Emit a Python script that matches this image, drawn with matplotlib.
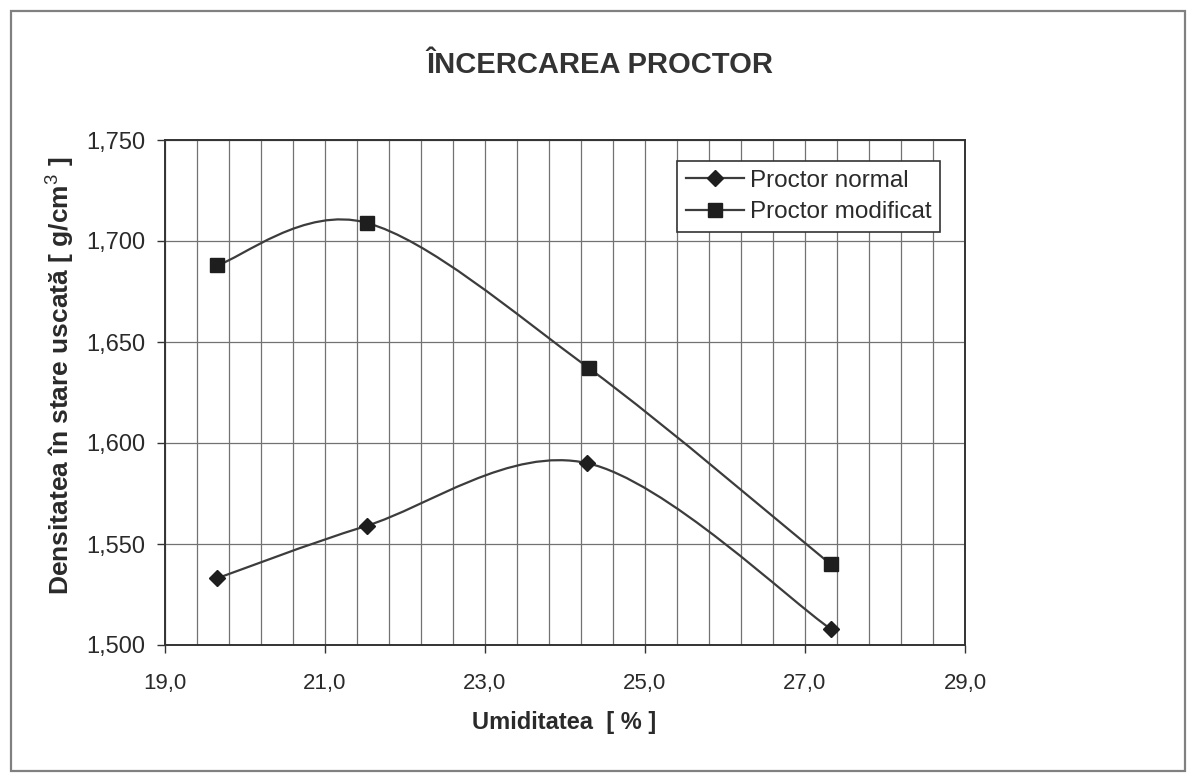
import matplotlib
matplotlib.use("Agg")
import matplotlib.pyplot as plt
from matplotlib.path import Path
from matplotlib.patches import PathPatch, Rectangle
from matplotlib.lines import Line2D
from matplotlib.ticker import MultipleLocator, FuncFormatter
from matplotlib import font_manager

# ---------------- data ----------------
umiditate_normal = [19.65, 21.52, 24.28, 27.32]
densitate_normal = [1.533, 1.559, 1.590, 1.508]
umiditate_modificat = [19.65, 21.52, 24.30, 27.32]
densitate_modificat = [1.688, 1.709, 1.637, 1.540]
series_names = ["Proctor normal", "Proctor modificat"]
title_text = "ÎNCERCAREA PROCTOR"
xlabel_text = "Umiditatea  [ % ]"
ylabel_text = "Densitatea în stare uscată [ g/cm$^3$ ]"

# ---------------- fonts ----------------
names = {f.name for f in font_manager.fontManager.ttflist}
base = "Liberation Sans" if "Liberation Sans" in names else "DejaVu Sans"
plt.rcParams['font.family'] = [base, 'DejaVu Sans']
plt.rcParams['mathtext.fontset'] = 'custom'
plt.rcParams['mathtext.rm'] = base
plt.rcParams['mathtext.bf'] = base + ':bold'

LINE_C = "#3c3c3c"
MARK_C = "#1e1e1e"
GRID_C = "#727272"
TEXT_C = "#2a2a2a"

fig = plt.figure(figsize=(11.89, 7.75), dpi=100)
fig.patch.set_facecolor("white")

# chart border
fig.add_artist(Rectangle((11/1189, 1-771/775), (1185-11)/1189, (771-11)/775,
                         transform=fig.transFigure, fill=False,
                         edgecolor="#808080", linewidth=1.6))

ax = fig.add_axes([165/1189, 1-645/775, 800/1189, 505/775])
ax.set_xlim(19.0, 29.0)
ax.set_ylim(1.500, 1.750)

ax.xaxis.set_major_locator(MultipleLocator(2.0, offset=1.0))
ax.xaxis.set_minor_locator(MultipleLocator(0.4, offset=0.2))
ax.yaxis.set_major_locator(MultipleLocator(0.05))
ax.xaxis.set_major_formatter(FuncFormatter(lambda v, p: f"{v:.1f}".replace(".", ",")))
ax.yaxis.set_major_formatter(FuncFormatter(lambda v, p: f"{v:.3f}".replace(".", ",")))

ax.grid(which="both", axis="x", color=GRID_C, linewidth=0.9)
ax.grid(which="major", axis="y", color=GRID_C, linewidth=0.9)
ax.set_axisbelow(True)
ax.tick_params(axis="x", which="minor", length=0)
ax.tick_params(axis="both", which="major", direction="out", length=6,
               width=1.0, color="#333333")
ax.tick_params(axis="y", labelsize=17, pad=8, labelcolor=TEXT_C)
ax.tick_params(axis="x", labelsize=16, pad=14, labelcolor=TEXT_C)
for s in ax.spines.values():
    s.set_color("#333333")
    s.set_linewidth(1.4)


def smooth_path(xs, ys):
    pts = list(zip(xs, ys))
    n = len(pts)
    verts = [pts[0]]
    codes = [Path.MOVETO]
    for i in range(n - 1):
        p0 = pts[i - 1] if i > 0 else pts[i]
        p1 = pts[i]
        p2 = pts[i + 1]
        p3 = pts[i + 2] if i + 2 < n else pts[i + 1]
        c1 = (p1[0] + (p2[0] - p0[0]) / 6.0, p1[1] + (p2[1] - p0[1]) / 6.0)
        c2 = (p2[0] - (p3[0] - p1[0]) / 6.0, p2[1] - (p3[1] - p1[1]) / 6.0)
        verts += [c1, c2, p2]
        codes += [Path.CURVE4] * 3
    return Path(verts, codes)


for xs, ys, mk, ms in [(umiditate_normal, densitate_normal, "D", 8.5),
                       (umiditate_modificat, densitate_modificat, "s", 10.5)]:
    ax.add_patch(PathPatch(smooth_path(xs, ys), fill=False, edgecolor=LINE_C,
                           linewidth=1.6, zorder=3))
    ax.plot(xs, ys, linestyle="none", marker=mk, markersize=ms,
            color=MARK_C, zorder=4)

handles = [Line2D([], [], color=LINE_C, linewidth=1.6, marker="D",
                  markersize=8.5, markerfacecolor=MARK_C, markeredgecolor=MARK_C),
           Line2D([], [], color=LINE_C, linewidth=1.6, marker="s",
                  markersize=10.5, markerfacecolor=MARK_C, markeredgecolor=MARK_C)]
leg = ax.legend(handles, series_names, loc="upper left",
                bbox_to_anchor=(0.64, 0.958), borderaxespad=0,
                fontsize=17.5, handlelength=2.4, handletextpad=0.25,
                borderpad=0.35, labelspacing=0.4, fancybox=False,
                framealpha=1, edgecolor="#333333")
leg.get_frame().set_linewidth(1.2)
for t in leg.get_texts():
    t.set_color(TEXT_C)

fig.text(600/1189, 1-65/775, title_text, ha="center", va="center",
         fontsize=21, fontweight="bold", color="#333333")
fig.text(564/1189, 1-722/775, xlabel_text, ha="center", va="center",
         fontsize=17, fontweight="bold", color=TEXT_C)
fig.text(60/1189, 1-376/775, ylabel_text, ha="center", va="center",
         rotation=90, fontsize=19, fontweight="bold", color=TEXT_C)

fig.savefig("out.png", dpi=100)
